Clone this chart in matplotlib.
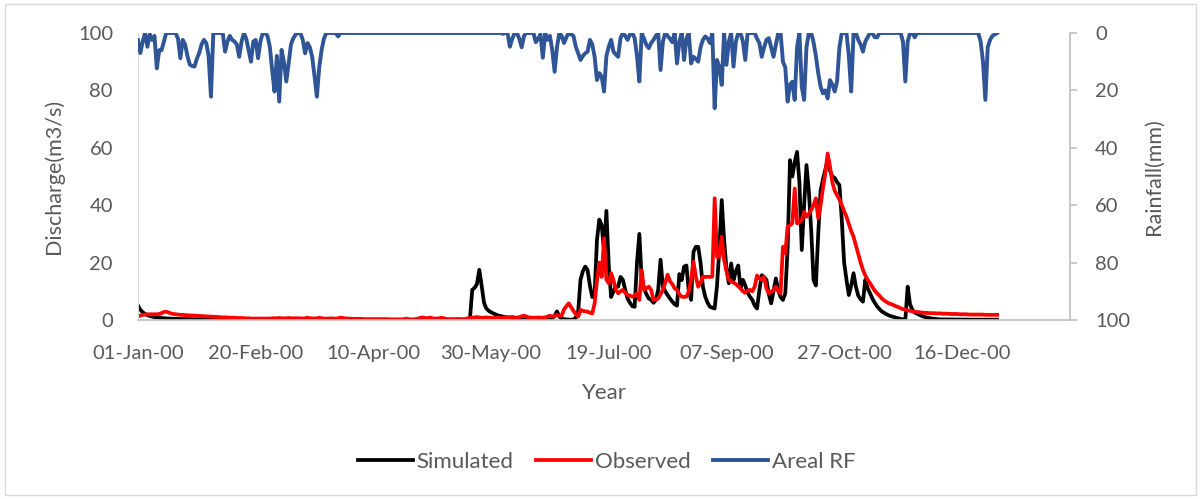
import matplotlib
matplotlib.use("Agg")
import matplotlib.pyplot as plt
import matplotlib.dates as mdates
from matplotlib.patches import Rectangle
import pandas as pd

plt.rcParams['font.family'] = ['Lato', 'DejaVu Sans']

start = '2000-01-01'

# daily simulated discharge (m3/s), 2000
simulated = [
    5.0, 3.6, 2.7, 2.1, 1.7, 1.4, 1.2, 1.0, 0.9, 0.8,
    0.7, 0.6, 0.55, 0.5, 0.45, 0.42, 0.4, 0.37, 0.35, 0.33,
    0.31, 0.3, 0.28, 0.27, 0.26, 0.25, 0.24, 0.23, 0.22, 0.21,
    0.2, 0.2, 0.19, 0.19, 0.18, 0.18, 0.17, 0.17, 0.16, 0.16,
    0.15, 0.15, 0.15, 0.14, 0.14, 0.14, 0.13, 0.13, 0.13, 0.12,
    0.12, 0.12, 0.12, 0.11, 0.11, 0.11, 0.11, 0.1, 0.1, 0.1,
    0.1, 0.1, 0.1, 0.1, 0.1, 0.1, 0.1, 0.1, 0.1, 0.1,
    0.09, 0.09, 0.09, 0.09, 0.09, 0.09, 0.09, 0.09, 0.09, 0.09,
    0.09, 0.09, 0.09, 0.09, 0.09, 0.09, 0.09, 0.09, 0.09, 0.09,
    0.08, 0.08, 0.08, 0.08, 0.08, 0.08, 0.08, 0.08, 0.08, 0.08,
    0.08, 0.08, 0.08, 0.08, 0.08, 0.08, 0.08, 0.08, 0.08, 0.08,
    0.07, 0.07, 0.07, 0.07, 0.07, 0.07, 0.07, 0.07, 0.07, 0.07,
    0.07, 0.07, 0.07, 0.07, 0.07, 0.07, 0.07, 0.07, 0.07, 0.07,
    0.06, 0.06, 0.06, 0.06, 0.06, 0.06, 0.06, 0.06, 0.06, 0.06,
    0.06, 0.1, 10.5, 11.2, 12.5, 17.5, 12.0, 6.0, 4.0, 3.2,
    2.7, 2.3, 1.9, 1.6, 1.4, 1.2, 1.0, 0.9, 0.8, 0.7,
    0.6, 0.5, 0.45, 0.4, 0.35, 0.3, 0.27, 0.24, 0.2, 0.18,
    0.16, 0.14, 0.12, 0.1, 0.1, 0.1, 0.5, 1.5, 3.0, 1.2,
    0.5, 0.3, 0.2, 0.15, 0.1, 0.2, 0.8, 2.9, 14.0, 17.0,
    18.6, 17.4, 12.0, 8.0, 9.0, 28.0, 35.0, 33.0, 24.0, 38.0,
    19.0, 8.0, 10.0, 11.6, 11.6, 15.0, 14.0, 10.5, 7.5, 6.0,
    4.8, 4.6, 20.0, 30.0, 14.0, 11.0, 9.0, 7.5, 7.0, 6.0,
    7.0, 10.5, 21.0, 11.6, 10.0, 8.7, 7.5, 6.4, 5.5, 5.0,
    16.0, 13.9, 18.6, 19.0, 10.0, 7.0, 23.8, 25.5, 25.5, 20.0,
    11.6, 8.1, 6.0, 4.6, 4.3, 4.0, 12.0, 25.0, 41.8, 28.0,
    18.0, 12.8, 19.7, 13.9, 17.0, 19.0, 11.0, 14.0, 12.0, 9.5,
    8.1, 7.0, 5.0, 4.0, 10.5, 15.6, 15.0, 14.0, 9.0, 5.8,
    10.0, 14.5, 10.5, 8.0, 7.0, 9.3, 25.0, 55.7, 50.0, 55.0,
    58.6, 48.0, 24.4, 40.0, 54.0, 45.0, 31.4, 14.0, 12.0, 30.0,
    45.0, 49.0, 52.3, 55.7, 52.0, 50.0, 49.5, 48.0, 47.0, 35.0,
    20.0, 14.0, 8.7, 12.0, 16.3, 11.6, 8.5, 7.2, 6.4, 14.0,
    11.0, 9.3, 7.5, 6.0, 4.8, 3.8, 3.0, 2.5, 2.0, 1.6,
    1.3, 1.1, 0.8, 0.6, 0.4, 0.2, 0.1, 11.6, 5.5, 3.5,
    2.6, 2.2, 1.8, 1.4, 1.1, 0.9, 0.7, 0.55, 0.45, 0.35,
    0.25, 0.22, 0.2, 0.2, 0.19, 0.18, 0.17, 0.16, 0.15, 0.15,
    0.14, 0.14, 0.13, 0.13, 0.12, 0.12, 0.12, 0.11, 0.11, 0.11,
    0.1, 0.1, 0.1, 0.1, 0.1, 0.1,
]

# daily observed discharge (m3/s)
observed = [
    1.2, 1.6, 1.8, 1.9, 2.0, 2.0, 2.0, 2.0, 2.0, 2.1,
    2.4, 2.8, 2.9, 2.6, 2.3, 2.1, 2.0, 1.9, 1.8, 1.8,
    1.7, 1.7, 1.6, 1.6, 1.5, 1.5, 1.4, 1.4, 1.3, 1.3,
    1.2, 1.2, 1.1, 1.1, 1.0, 1.0, 0.9, 0.9, 0.9, 0.8,
    0.8, 0.8, 0.7, 0.7, 0.7, 0.6, 0.6, 0.6, 0.5, 0.5,
    0.5, 0.5, 0.5, 0.5, 0.5, 0.5, 0.5, 0.6, 0.6, 0.6,
    0.7, 0.6, 0.6, 0.6, 0.7, 0.6, 0.6, 0.6, 0.6, 0.6,
    0.5, 0.6, 0.8, 0.6, 0.6, 0.5, 0.6, 0.8, 0.6, 0.5,
    0.5, 0.5, 0.6, 0.5, 0.5, 0.6, 0.8, 0.7, 0.6, 0.5,
    0.5, 0.4, 0.4, 0.4, 0.4, 0.4, 0.3, 0.3, 0.3, 0.3,
    0.3, 0.3, 0.3, 0.3, 0.3, 0.3, 0.3, 0.2, 0.2, 0.2,
    0.2, 0.2, 0.2, 0.3, 0.5, 0.3, 0.2, 0.2, 0.3, 0.5,
    0.8, 0.9, 0.7, 0.6, 0.9, 0.6, 0.5, 0.5, 0.6, 0.8,
    0.6, 0.4, 0.3, 0.3, 0.3, 0.3, 0.4, 0.3, 0.3, 0.3,
    0.6, 0.7, 0.8, 0.9, 1.0, 0.9, 0.8, 0.8, 0.9, 0.8,
    0.8, 0.7, 0.8, 0.9, 0.8, 0.7, 0.8, 0.9, 1.0, 1.1,
    0.9, 0.8, 1.0, 1.3, 1.5, 1.2, 0.9, 0.8, 0.8, 0.8,
    0.9, 0.8, 0.8, 0.9, 1.2, 1.5, 1.2, 1.3, 1.8, 1.5,
    1.5, 3.7, 4.8, 5.8, 4.5, 3.2, 2.0, 1.2, 3.5, 3.2,
    3.0, 2.9, 2.5, 2.3, 5.8, 13.9, 20.0, 15.0, 28.5, 14.0,
    12.8, 16.3, 13.9, 10.5, 9.3, 10.0, 10.5, 9.5, 8.7, 8.5,
    8.1, 8.5, 9.3, 7.0, 17.4, 10.5, 11.0, 11.6, 10.5, 7.0,
    7.2, 7.5, 9.0, 10.5, 13.0, 15.8, 13.5, 12.5, 11.0, 10.5,
    9.0, 8.1, 8.1, 8.1, 10.0, 14.0, 20.3, 15.0, 11.6, 13.0,
    15.1, 15.0, 15.1, 15.0, 15.1, 42.4, 22.0, 22.0, 29.0, 21.0,
    17.0, 14.0, 13.5, 13.0, 12.5, 11.8, 11.0, 10.0, 9.5, 10.2,
    10.5, 10.0, 11.6, 15.5, 14.5, 14.0, 15.1, 11.0, 9.3, 9.8,
    10.5, 11.6, 10.0, 9.3, 25.5, 23.2, 32.5, 33.0, 33.7, 45.8,
    33.7, 34.0, 34.8, 37.7, 36.0, 37.0, 38.3, 40.0, 42.4, 35.4,
    40.0, 46.0, 51.1, 58.0, 53.4, 48.0, 45.0, 43.5, 42.0, 40.0,
    38.0, 36.0, 33.5, 31.0, 29.0, 26.0, 23.0, 20.0, 17.5, 15.5,
    14.0, 12.8, 11.5, 10.2, 9.3, 8.5, 7.5, 6.8, 6.3, 5.8,
    5.5, 5.2, 4.8, 4.5, 4.1, 3.8, 3.6, 3.4, 3.2, 3.0,
    2.9, 2.8, 2.7, 2.6, 2.5, 2.5, 2.4, 2.4, 2.4, 2.3,
    2.3, 2.3, 2.2, 2.2, 2.2, 2.1, 2.1, 2.1, 2.1, 2.0,
    2.0, 2.0, 2.0, 1.9, 1.9, 1.9, 1.9, 1.9, 1.9, 1.9,
    1.8, 1.8, 1.8, 1.8, 1.8, 1.8,
]

# daily areal rainfall (mm)
rainfall = [
    2.5, 7.0, 3.0, 0, 4.8, 0.5, 2.4, 1.0, 12.3, 6.0,
    6.0, 3.0, 0, 0, 0, 0, 0, 2.0, 8.8, 2.4,
    4.0, 8.0, 11.0, 11.5, 11.7, 9.0, 7.0, 4.0, 2.4, 3.5,
    8.0, 22.2, 0, 0, 0, 0, 0, 6.5, 3.0, 1.0,
    2.4, 3.0, 4.0, 8.3, 3.0, 0, 2.0, 6.0, 10.0, 3.0,
    2.4, 8.8, 3.0, 0, 0, 1.0, 4.8, 12.9, 20.4, 8.0,
    23.9, 5.9, 10.0, 16.9, 10.6, 4.0, 1.8, 0.5, 0, 0,
    2.4, 7.1, 3.5, 5.0, 8.3, 15.0, 22.2, 12.0, 5.9, 2.0,
    0, 0, 0, 0, 0, 1.2, 0, 0, 0, 0,
    0, 0, 0, 0, 0, 0, 0, 0, 0, 0,
    0, 0, 0, 0, 0, 0, 0, 0, 0, 0,
    0, 0, 0, 0, 0, 0, 0, 0, 0, 0,
    0, 0, 0, 0, 0, 0, 0, 0, 0, 0,
    0, 0, 0, 0, 0, 0, 0, 0, 0, 0,
    0, 0, 0, 0, 0, 0, 0, 0, 0, 0,
    0, 0, 0, 0, 0, 0.3, 0, 0, 4.8, 2.0,
    0, 0, 2.0, 5.0, 1.0, 0, 0, 0, 0, 3.2,
    2.0, 0.5, 8.6, 0, 2.4, 1.0, 6.0, 13.5, 5.0, 0,
    1.0, 3.5, 1.5, 0, 0.5, 1.0, 4.8, 7.0, 9.4, 8.0,
    7.1, 6.5, 2.4, 4.0, 8.3, 16.4, 14.0, 15.2, 20.4, 8.0,
    4.8, 2.4, 6.5, 7.5, 8.3, 1.8, 0, 1.0, 2.4, 0.5,
    0, 1.8, 8.0, 16.9, 0, 2.0, 4.2, 5.3, 3.5, 2.4,
    1.0, 0, 12.9, 3.0, 0, 1.0, 2.0, 3.2, 0, 10.6,
    3.0, 0, 9.4, 2.0, 0, 10.6, 8.3, 9.0, 10.0, 5.0,
    2.4, 1.2, 2.0, 3.5, 0, 26.2, 9.4, 12.0, 18.1, 0,
    11.1, 3.0, 0, 11.7, 3.0, 0, 0, 3.0, 9.4, 0,
    0, 0, 0, 2.0, 3.5, 8.3, 5.0, 2.4, 1.8, 5.0,
    8.3, 4.2, 0, 0, 10.0, 12.0, 23.9, 18.0, 17.0, 23.3,
    5.0, 0, 18.7, 23.3, 5.0, 0, 0, 3.2, 8.0, 14.0,
    18.7, 21.0, 20.0, 22.8, 16.4, 18.0, 20.4, 16.9, 5.0, 0,
    0, 0, 8.0, 20.4, 0, 0, 2.4, 4.0, 6.5, 3.0,
    1.5, 0, 0, 1.5, 1.5, 0, 0, 0, 0, 0,
    0, 0, 0, 0, 0, 3.0, 16.9, 3.0, 0, 0,
    1.5, 0, 0, 0, 0, 0, 0, 0, 0, 0,
    0, 0, 0, 0, 0, 0, 0, 0, 0, 0,
    0, 0, 0, 0, 0, 0, 0, 0, 3.0, 10.0,
    23.3, 5.0, 2.4, 1.0, 0.5, 0,
]

grey = '#595959'
axis_grey = '#BFBFBF'

fig = plt.figure(figsize=(12.01, 4.99), dpi=100)
ax = fig.add_axes([0.1149, 0.3587, 0.7761, 0.5752])
ax2 = ax.twinx()

ax.plot(pd.date_range(start, periods=len(simulated)), simulated,
        color='black', lw=2.7, label='Simulated')
ax.plot(pd.date_range(start, periods=len(observed)), observed,
        color='#FF0000', lw=2.7, label='Observed')
ax2.plot(pd.date_range(start, periods=len(rainfall)), rainfall,
         color='#2F5597', lw=2.8, label='Areal RF')

ax.set_ylim(0, 100)
ax.set_yticks(range(0, 101, 20))
ax2.set_ylim(100, 0)
ax2.set_yticks(range(0, 101, 20))

t0 = pd.Timestamp(start)
ax.set_xlim(t0, t0 + pd.Timedelta(days=396))
ax.set_xticks(pd.date_range(start, periods=8, freq='50D'))
ax.xaxis.set_major_formatter(mdates.DateFormatter('%d-%b-%y'))

for a in (ax, ax2):
    for s in a.spines.values():
        s.set_visible(False)
ax.spines['left'].set_visible(True)
ax.spines['left'].set_color('#D9D9D9')
ax.spines['bottom'].set_visible(True)
ax.spines['bottom'].set_color(axis_grey)
ax.spines['bottom'].set_linewidth(1.2)
ax2.spines['right'].set_visible(True)
ax2.spines['right'].set_color(axis_grey)
ax2.spines['right'].set_linewidth(1.2)

ax.tick_params(axis='both', length=0, labelsize=14.5, labelcolor=grey)
ax.tick_params(axis='x', pad=18)
ax.tick_params(axis='y', pad=18)
ax2.tick_params(axis='y', length=5, color=axis_grey, width=1.2,
                labelsize=14.5, labelcolor=grey, pad=13)

ax.set_xlabel('Year', fontsize=16, color=grey, labelpad=15)
ax.set_ylabel('Discharge(m3/s)', fontsize=15.5, color=grey, labelpad=10)
ax2.set_ylabel('Rainfall(mm)', fontsize=15.5, color=grey, labelpad=10)

h1, l1 = ax.get_legend_handles_labels()
h2, l2 = ax2.get_legend_handles_labels()
fig.legend(h1 + h2, l1 + l2, loc='center', bbox_to_anchor=(0.505, 0.074),
           ncol=3, frameon=False, fontsize=16, labelcolor=grey,
           handlelength=2.5, handletextpad=0.15, columnspacing=1.0)

fig.patches.append(Rectangle((0.004, 0.008), 0.992, 0.984, transform=fig.transFigure,
                             fill=False, edgecolor='#D9D9D9', lw=1))

fig.savefig('out.png', dpi=100)
